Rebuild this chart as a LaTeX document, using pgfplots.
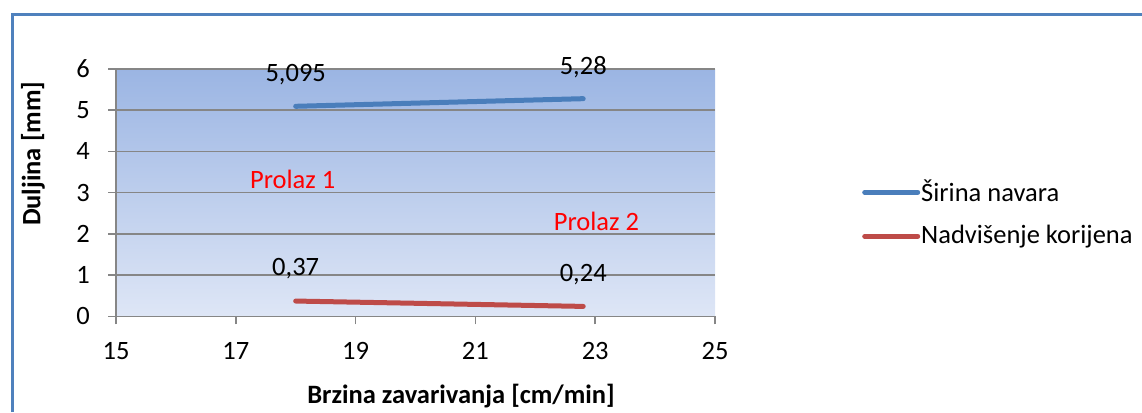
\documentclass[border=0pt]{standalone}
\usepackage{fontspec}
\setmainfont{Carlito}
\usepackage{pgfplots}
\pgfplotsset{compat=1.18}
\usepackage{pgfplotstable}
\definecolor{frameblue}{RGB}{79,129,189}
\definecolor{gridgray}{RGB}{134,134,134}
\definecolor{sblue}{RGB}{74,126,187}
\definecolor{sred}{RGB}{190,75,72}
\definecolor{bgtop}{RGB}{155,181,227}
\definecolor{bgbot}{RGB}{222,230,246}
\pgfplotstableread{
x y label
18 5.095 {5,095}
22.8 5.28 {5,28}
}\sirina
\pgfplotstableread{
x y label
18 0.37 {0,37}
22.8 0.24 {0,24}
}\nadvisenje
\begin{document}
\fontsize{26.5}{31}\selectfont
\begin{tikzpicture}
\useasboundingbox (0,0) rectangle (1142pt,412pt);
\draw[frameblue, line width=3.5pt] (12.5pt,0) -- (12.5pt,397.5pt) -- (1142pt,397.5pt);
\begin{axis}[
  at={(116pt,95.7pt)}, anchor=south west,
  scale only axis, width=599pt, height=247.3pt,
  xmin=15, xmax=25, ymin=0, ymax=6,
  xtick={15,17,19,21,23,25}, ytick={0,1,2,3,4,5,6},
  axis x line*=bottom, axis y line*=left,
  axis line style={draw=gridgray, line width=1.5pt, -},
  tick style={draw=gridgray, line width=1.5pt},
  tick align=outside, major tick length=8pt,
  ymajorgrids, major grid style={draw=gridgray, line width=1.5pt},
  axis background/.style={shade, top color=bgtop, bottom color=bgbot},
  /pgf/number format/assume math mode=true,
  yticklabel style={anchor=east, inner sep=0pt, xshift=-18pt},
  xticklabel style={anchor=north, inner sep=0pt, yshift=-18pt},
  clip=false,
  xlabel={\bfseries Brzina zavarivanja [cm/min]},
  ylabel={\bfseries Duljina [mm]},
  every axis x label/.style={at={(axis description cs:0.576,-0.324)}, anchor=center},
  every axis y label/.style={at={(axis description cs:-0.1386,0.657)}, anchor=center, rotate=90},
  legend style={at={(axis description cs:1.2454,0.416)}, anchor=west, draw=none, fill=none,
    inner sep=0pt, row sep=18pt, nodes={inner sep=1pt, anchor=west}},
  legend cell align=left,
  legend image code/.code={\draw[#1, line cap=round] (0pt,0pt) -- (53pt,0pt);},
  nodes near coords, point meta=explicit symbolic,
  every node near coord/.style={anchor=center, yshift=32pt, black},
]
\addplot[sblue, line width=5pt, line cap=round] table[x=x, y=y, meta=label] {\sirina};
\addlegendentry{Širina navara}
\addplot[sred, line width=5pt, line cap=round] table[x=x, y=y, meta=label] {\nadvisenje};
\addlegendentry{Nadvišenje korijena}
\node[red] at (axis cs:17.95,3.33) {Prolaz 1};
\node[red] at (axis cs:23.02,2.31) {Prolaz 2};
\end{axis}
\end{tikzpicture}
\end{document}
